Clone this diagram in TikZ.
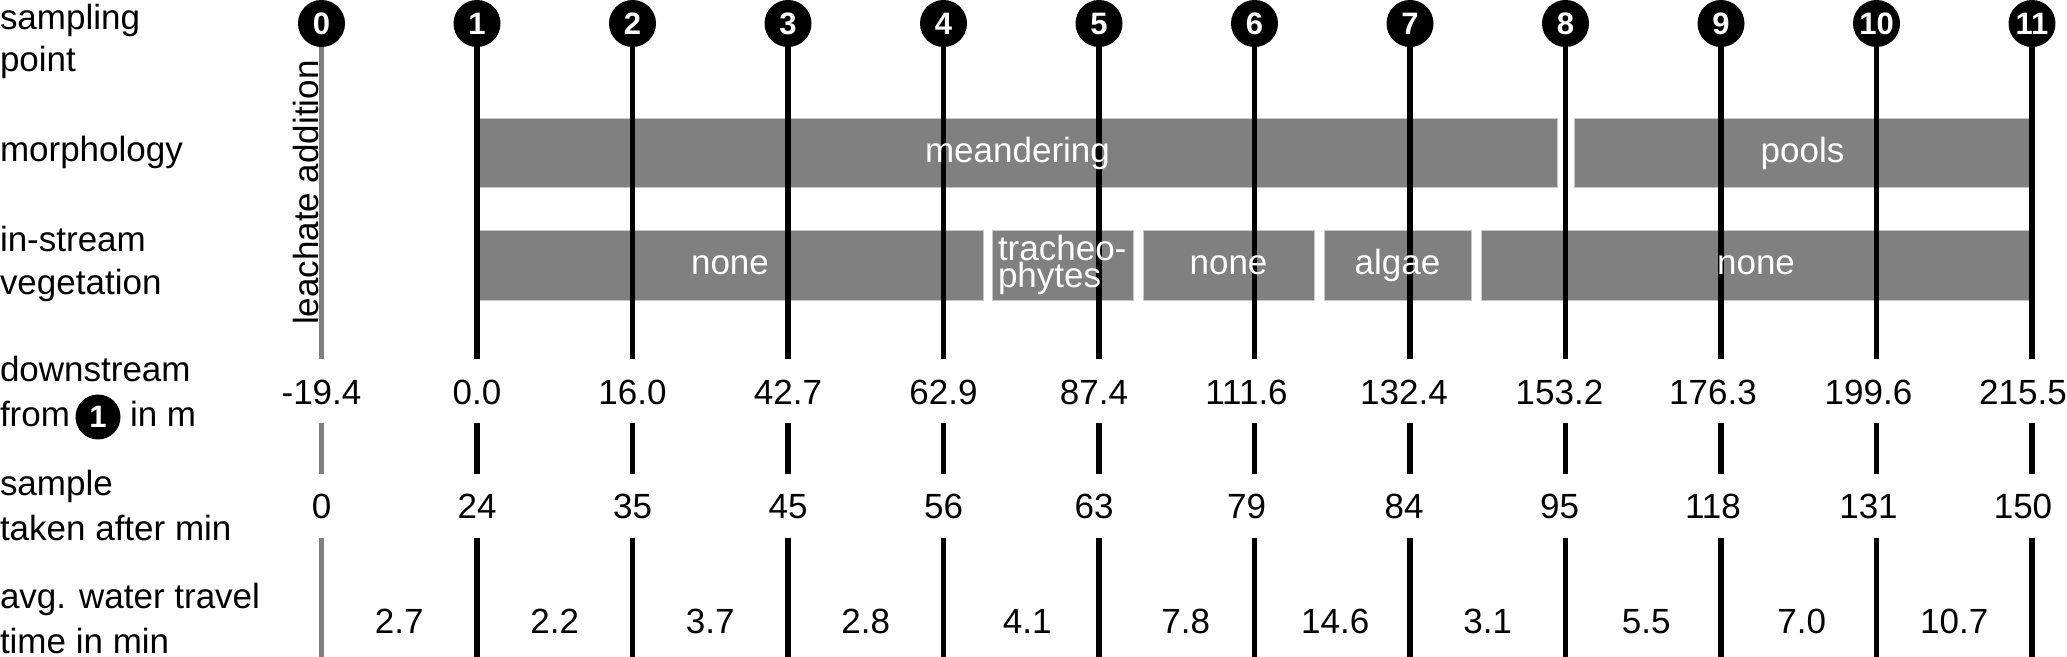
\documentclass[tikz,border=0pt]{standalone}
\usepackage{fontspec}
\setmainfont{Liberation Sans}
\definecolor{bargray}{HTML}{808080}
\definecolor{edgegray}{HTML}{C8C8C8}
\begin{document}
\begin{tikzpicture}[x=0.5pt,y=-0.5pt,
  every node/.style={inner sep=0pt, outer sep=0pt},
  lbl/.style={anchor=base west, font=\fontsize{17.5}{21}\selectfont},
  num/.style={anchor=base, font=\fontsize{17.5}{21}\selectfont},
  bartext/.style={anchor=base, text=white, font=\fontsize{17.5}{21}\selectfont},
  bar/.style={fill=bargray, draw=edgegray, line width=0.5pt},
  spt/.style={circle, fill=black, minimum size=23.5pt, text=white, font=\bfseries\fontsize{15.5}{15.5}\selectfont},
  post/.style={line width=2.75pt},
]
\useasboundingbox (0,0) rectangle (2067,657);

% bars
\path[bar] (478,119) rectangle (1557,188);
\path[bar] (1574,119) rectangle (2031,188);
\path[bar] (478,231) rectangle (983,301);
\path[bar] (992,231) rectangle (1133,301);
\path[bar] (1143,231) rectangle (1314,301);
\path[bar] (1324,231) rectangle (1471,301);
\path[bar] (1481,231) rectangle (2031,301);

% vertical posts
\foreach \i in {0,...,11} {
  \pgfmathsetmacro\xx{321.5+155.5*\i}
  \ifnum\i=0 \def\pc{bargray}\else\def\pc{black}\fi
  \coordinate (ct\i) at (\xx,23.5);
  \coordinate (a\i) at (\xx,359);
  \coordinate (b\i) at (\xx,423);
  \coordinate (c\i) at (\xx,474);
  \coordinate (d\i) at (\xx,538);
  \coordinate (e\i) at (\xx,657);
  \draw[post, draw=\pc] (ct\i) -- (a\i);
  \draw[post, draw=\pc] (b\i) -- (c\i);
  \draw[post, draw=\pc] (d\i) -- (e\i);
}
\foreach \i in {0,...,11} {
  \pgfmathsetmacro\xx{321.5+155.5*\i}
  \node[spt] (p\i) at (\xx,23.5) {\i};
}

% bar texts
\node[bartext] (meander) at (1017.5,163) {meandering};
\node[bartext] (pools) at (1802.5,163) {pools};
\node[bartext] (none1) at (730,275) {none};
\node[bartext, anchor=north west, align=left, font=\fontsize{17.5}{13.5}\selectfont] (tr) at (998,235.5) {tracheo-\\phytes};
\node[bartext] (none2) at (1228.5,275) {none};
\node[bartext] (algae) at (1397.5,275) {algae};
\node[bartext] (none3) at (1756,275) {none};

% leachate
\node[lbl, rotate=90] (leach) at (318,325) {leachate addition};

% row labels
\node[lbl] (l1a) at (0,30) {sampling};
\node[lbl] (l1b) at (0,72) {point};
\node[lbl] (l2) at (0,162) {morphology};
\node[lbl] (l3a) at (0,252) {in-stream};
\node[lbl] (l3b) at (0,295) {vegetation};
\node[lbl] (l4a) at (0,382) {downstream};
\node[lbl] (l4b) at (0,427) {from};
\node[spt, minimum size=22.5pt] (one) at (98,417) {1};
\node[lbl] (l4c) at (130,427) {in m};
\node[lbl] (l5a) at (0,495) {sample};
\node[lbl] (l5b) at (0,540) {taken after min};
\node[lbl] (l6a) at (0,608) {avg. water travel};
\node[lbl] (l6b) at (0,653) {time in min};

% numbers
\foreach \i/\d/\s/\o in {0/-19.4/0/0, 1/0.0/24/0, 2/16.0/35/0, 3/42.7/45/0, 4/62.9/56/0, 5/87.4/63/-5, 6/111.6/79/-8, 7/132.4/84/-6, 8/153.2/95/-6, 9/176.3/118/-8, 10/199.6/131/-8, 11/215.5/150/-9} {
  \pgfmathsetmacro\xx{321.5+155.5*\i+\o}
  \node[num] (dist\i) at (\xx,405) {\d};
  \node[num] (samp\i) at (\xx,518) {\s};
}
\foreach \i/\t/\o in {0/2.7/0, 1/2.2/0, 2/3.7/0, 3/2.8/0, 4/4.1/6, 5/7.8/9, 6/14.6/3, 7/3.1/0, 8/5.5/3, 9/7.0/3, 10/10.7/0} {
  \pgfmathsetmacro\xx{321.5+155.5*\i+77.75+\o}
  \node[num] (trav\i) at (\xx,633) {\t};
}
\end{tikzpicture}
\end{document}
